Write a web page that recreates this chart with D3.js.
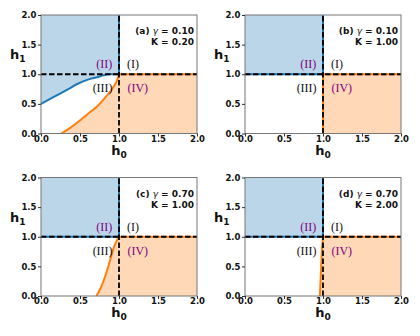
<!DOCTYPE html>
<html>
<head>
<meta charset="utf-8">
<script src="https://cdn.jsdelivr.net/npm/d3@7"></script>
<style>
  body { margin: 0; background: #fff; }
  svg { display: block; }
  .tick text { font-family: "DejaVu Sans", sans-serif; font-weight: bold; font-size: 8.5px; fill: #111; }
  .lab { font-family: "DejaVu Sans", sans-serif; font-weight: bold; fill: #111; }
  .reg { font-family: "Liberation Serif", serif; font-size: 12px; }
</style>
</head>
<body>
<div id="chart"></div>
<script>
// panel parameters
var panelIds = ["a", "b", "c", "d"];
var gammas = ["0.10", "0.10", "0.70", "0.70"];
var kays = ["0.20", "1.00", "1.00", "2.00"];

// boundary curves, [h0, h1]
var blueCurves = [
    [[0,0.5],[0.1,0.57],[0.22,0.656],[0.35,0.75],[0.47,0.84],[0.6,0.91],[0.73,0.955],[0.8,0.982],[0.86,1.0],[1.0,1.0]],
    [[0,1],[1,1]],
    [[0,1],[1,1]],
    [[0,1],[1,1]]
];
var orangeCurves = [
    [[0.26,0],[0.37,0.09],[0.47,0.19],[0.6,0.33],[0.73,0.47],[0.82,0.6],[0.9,0.73],[0.95,0.83],[0.985,0.93],[1,1]],
    [[1,0],[1,1]],
    [[0.71,0],[0.77,0.15],[0.82,0.32],[0.885,0.6],[0.94,0.84],[0.97,0.93],[1,1]],
    [[0.96,0],[0.97,0.3],[0.98,0.6],[0.99,0.85],[1,1]]
];
var tickVals = [0, 0.5, 1.0, 1.5, 2.0];
var regionLabels = [
    {t: "(II)", x: 0.81, y: 1.1, c: "purple"},
    {t: "(I)",  x: 1.18, y: 1.1, c: "#111"},
    {t: "(III)", x: 0.79, y: 0.7, c: "#111"},
    {t: "(IV)", x: 1.24, y: 0.7, c: "purple"}
];

var blue = "#1f77b4", orange = "#ff7f0e";
var blueFill = "#bcd6e9", orangeFill = "#ffd8b7";

var W = 420, H = 336;
var pw = 156, ph = 118.5;
var lefts = [41, 245, 41, 245];
var tops = [15, 15, 177.5, 177.5];

var svg = d3.select("#chart").append("svg")
    .attr("width", W)
    .attr("height", H);

for (var i = 0; i < 4; i++) {
    var g = svg.append("g").attr("transform", "translate(" + lefts[i] + "," + tops[i] + ")");

    var x = d3.scaleLinear().domain([0, 2]).range([0, pw]);
    var y = d3.scaleLinear().domain([0, 2]).range([ph, 0]);

    //blue region above the blue curve
    var blueArea = d3.area()
        .x(function(d){ return x(d[0]); })
        .y0(function(d){ return y(d[1]); })
        .y1(y(2))
        .curve(d3.curveMonotoneX);
    g.append("path").datum(blueCurves[i])
        .attr("d", blueArea)
        .attr("fill", blueFill);

    //orange region right of the orange curve, below h1 = 1
    var orangeArea = d3.area()
        .y(function(d){ return y(d[1]); })
        .x0(function(d){ return x(d[0]); })
        .x1(x(2))
        .curve(d3.curveMonotoneY);
    g.append("path").datum(orangeCurves[i])
        .attr("d", orangeArea)
        .attr("fill", orangeFill);

    var blueLine = d3.line()
        .x(function(d){ return x(d[0]); })
        .y(function(d){ return y(d[1]); })
        .curve(d3.curveMonotoneX);
    g.append("path").datum(blueCurves[i])
        .attr("d", blueLine)
        .attr("fill", "none")
        .attr("stroke", blue)
        .attr("stroke-width", 2);
    g.append("line")
        .attr("x1", x(1)).attr("x2", x(1))
        .attr("y1", y(1)).attr("y2", y(2))
        .attr("stroke", blue).attr("stroke-width", 2);

    var orangeLine = d3.line()
        .x(function(d){ return x(d[0]); })
        .y(function(d){ return y(d[1]); })
        .curve(d3.curveMonotoneY);
    g.append("path").datum(orangeCurves[i])
        .attr("d", orangeLine)
        .attr("fill", "none")
        .attr("stroke", orange)
        .attr("stroke-width", 2);
    g.append("line")
        .attr("x1", x(1)).attr("x2", x(2))
        .attr("y1", y(1)).attr("y2", y(1))
        .attr("stroke", orange).attr("stroke-width", 2);

    //dashed guide lines
    g.append("line")
        .attr("x1", x(1)).attr("x2", x(1))
        .attr("y1", y(0)).attr("y2", y(2))
        .attr("stroke", "#000").attr("stroke-width", 1.8)
        .attr("stroke-dasharray", "5.5,2.5");
    g.append("line")
        .attr("x1", x(0)).attr("x2", x(2))
        .attr("y1", y(1)).attr("y2", y(1))
        .attr("stroke", "#000").attr("stroke-width", 1.8)
        .attr("stroke-dasharray", "5.5,2.5");

    //frame
    g.append("rect")
        .attr("x", 0).attr("y", 0)
        .attr("width", pw).attr("height", ph)
        .attr("fill", "none")
        .attr("stroke", "#777")
        .attr("stroke-width", 1);

    var xAxis = g.append("g")
        .attr("transform", "translate(0," + ph + ")")
        .call(d3.axisBottom(x).tickValues(tickVals).tickFormat(d3.format(".1f")).tickSize(3).tickPadding(2));
    xAxis.selectAll(".tick text").attr("y", 2.2);
    var yAxis = g.append("g")
        .call(d3.axisLeft(y).tickValues(tickVals).tickFormat(d3.format(".1f")).tickSize(3).tickPadding(1.5));
    [xAxis, yAxis].forEach(function(a){
        a.select(".domain").remove();
        a.selectAll(".tick line").attr("stroke", "#333");
    });

    //axis labels
    var xl = g.append("text").attr("class", "lab")
        .attr("x", pw / 2).attr("y", ph + 21)
        .attr("text-anchor", "middle")
        .style("font-size", "13px");
    xl.append("tspan").text("h");
    xl.append("tspan").attr("dy", 3).style("font-size", "9px").text("0");

    var yl = g.append("text").attr("class", "lab")
        .attr("x", -31).attr("y", 44)
        .style("font-size", "13px");
    yl.append("tspan").text("h");
    yl.append("tspan").attr("dy", 3).style("font-size", "9px").text("1");

    //parameter note
    var n1 = g.append("text").attr("class", "lab")
        .attr("x", pw - 3).attr("y", 19)
        .attr("text-anchor", "end")
        .style("font-size", "9px");
    n1.append("tspan").text("(" + panelIds[i] + ") ");
    n1.append("tspan").style("font-weight", "normal").style("font-style", "italic").text("\u03b3");
    n1.append("tspan").text(" = " + gammas[i]);
    g.append("text").attr("class", "lab")
        .attr("x", pw - 3).attr("y", 30)
        .attr("text-anchor", "end")
        .style("font-size", "9px")
        .text("K = " + kays[i]);

    //region labels
    g.selectAll(".reg")
        .data(regionLabels)
        .enter()
        .append("text")
        .attr("class", "reg")
        .attr("x", function(d){ return x(d.x); })
        .attr("y", function(d){ return y(d.y); })
        .attr("text-anchor", "middle")
        .attr("fill", function(d){ return d.c; })
        .text(function(d){ return d.t; });
}
</script>
</body>
</html>
